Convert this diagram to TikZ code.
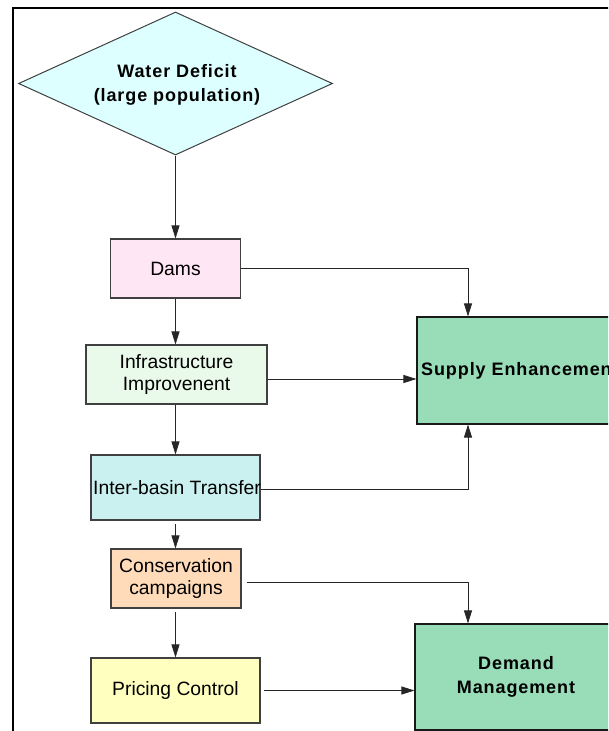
\documentclass[tikz,border=0pt]{standalone}
\usepackage{fontspec}
\setmainfont{Liberation Sans}
\usetikzlibrary{shapes.geometric,arrows.meta}
\definecolor{deficitfill}{RGB}{221,255,255}
\definecolor{damsfill}{RGB}{255,230,244}
\definecolor{infrafill}{RGB}{234,250,234}
\definecolor{transferfill}{RGB}{202,240,240}
\definecolor{consfill}{RGB}{255,219,186}
\definecolor{pricefill}{RGB}{255,255,192}
\definecolor{goalfill}{RGB}{152,220,184}
\newcommand{\widebold}{\bfseries\fontsize{18}{23.5}\selectfont\addfontfeatures{LetterSpace=5}}
\begin{document}
\begin{tikzpicture}[x=1pt,y=-1pt,
  txt/.style={font=\fontsize{19.3}{21.5}\selectfont},
  box/.style={txt, draw=black!75, line width=1.1pt, inner sep=0pt, align=center},
  goal/.style={box, draw=black!90, fill=goalfill, font=\widebold},
  arr/.style={-{Triangle[length=13pt,width=8pt]}, line width=0.8pt, draw=black!85}
]
\useasboundingbox (0,0) rectangle (608,731);
\clip (0,0) rectangle (608,731);

% outer frame
\draw[line width=2.5pt] (13,8) rectangle (640,760);

% start condition
\node[diamond, draw=black!75, line width=1pt, fill=deficitfill,
      minimum width=314pt, minimum height=143pt, inner sep=0pt] (deficit) at (175.5,83.5) {};
\node[align=center, inner sep=0pt, font=\widebold] (deficittext) at (177,85)
      {Water Deficit\\(large population)};

% measures
\node[box, fill=damsfill, minimum width=130pt, minimum height=59pt] (dams) at (175.5,268.5) {Dams};
\node[box, fill=infrafill, minimum width=181pt, minimum height=59pt] (infra) at (176.5,374.5) {Infrastructure\\Improvenent};
\node[box, fill=transferfill, minimum width=169pt, minimum height=65pt] (transfer) at (175.5,487.5) {};
\node[anchor=west, inner sep=0pt, txt] (transfertext) at (93,488) {Inter-basin Transfer};
\node[box, fill=consfill, minimum width=130pt, minimum height=59pt] (cons) at (176,578.5) {Conservation\\campaigns};
\node[box, fill=pricefill, minimum width=169pt, minimum height=65pt] (pricing) at (175.5,690.5) {Pricing Control};

% goals
\node[goal, minimum width=195pt, minimum height=107pt] (supply) at (514.5,370.5) {};
\node[anchor=west, inner sep=0pt, font=\widebold] (supplytext) at (421,371) {Supply Enhancement};
\node[goal, minimum width=202pt, minimum height=106pt] (demand) at (516,677) {Demand\\Management};

% column of the junction lines and offset exit points
\coordinate (jx) at (468,0);
\coordinate (infraout) at ([yshift=-4.5pt]infra.east);
\coordinate (transferout) at ([yshift=-1.5pt]transfer.east);
\coordinate (consout) at ([xshift=5pt,yshift=-3.5pt]cons.east);
\coordinate (priceout) at ([xshift=3pt]pricing.east);

% vertical chain
\draw[arr] (deficit.south) -- (deficit.south |- dams.north);
\draw[arr] (dams.south) -- (dams.south |- infra.north);
\draw[arr] (dams.south |- infra.south) -- (dams.south |- transfer.north);
\draw[arr] ([yshift=-3pt]transfer.south) -- (transfer.south |- cons.north);
\draw[arr] ([yshift=-3pt]transfer.south |- cons.south) -- (transfer.south |- pricing.north);

% links to the goals
\draw[arr] (dams.east) -| (supply.north -| jx);
\draw[arr] (infraout) -- (supply.west |- infraout);
\draw[arr] (transferout) -| (supply.south -| jx);
\draw[arr] (consout) -| (demand.north -| jx);
\draw[arr] (priceout) -- (demand.west |- priceout);
\end{tikzpicture}
\end{document}
